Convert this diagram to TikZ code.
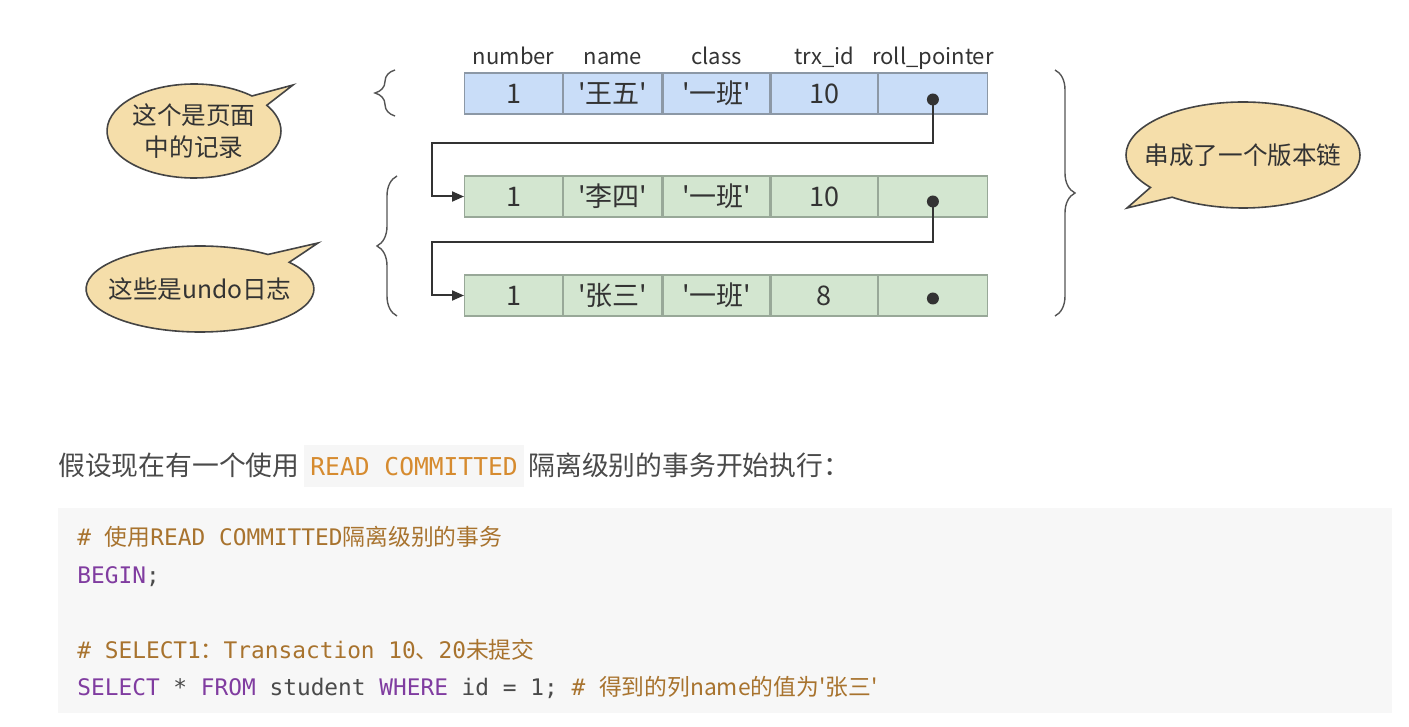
\documentclass[tikz,border=0pt]{standalone}
\usepackage{xcolor}
\usepackage{fontspec}
\newfontfamily\cjk{Noto Sans CJK SC}
\newfontfamily\codefont{DejaVu Sans Mono}
\usepackage{tikz}
\usetikzlibrary{arrows.meta, positioning, shapes.callouts, decorations.pathreplacing}

\definecolor{curfill}{HTML}{C9DDF8}
\definecolor{curline}{HTML}{8C98A6}
\definecolor{undofill}{HTML}{D3E6D0}
\definecolor{undoline}{HTML}{98A898}
\definecolor{textdark}{HTML}{333333}
\definecolor{bubblefill}{HTML}{F5DEAA}
\definecolor{bubbleline}{HTML}{444444}
\definecolor{ptrcol}{HTML}{333333}
\definecolor{bracecol}{HTML}{555555}
\definecolor{paratext}{HTML}{4A4A4A}
\definecolor{inlinefill}{HTML}{F6F6F6}
\definecolor{inlinetext}{HTML}{D68B2F}
\definecolor{codefill}{HTML}{F7F7F7}
\definecolor{commentcol}{HTML}{A8732E}
\definecolor{keywordcol}{HTML}{803CA0}
\definecolor{plaincode}{HTML}{4A4A4A}

\begin{document}
\begin{tikzpicture}[
    x=0.5pt, y=-0.5pt,
    % record cells (page record = blue, undo log = green)
    cell/.style={rectangle, line width=0.6pt, minimum height=20.5pt, inner sep=0pt,
                 font=\cjk\fontsize{13.5}{15}\selectfont, text=textdark},
    curcell/.style={cell, fill=curfill, draw=curline},
    undocell/.style={cell, fill=undofill, draw=undoline},
    colhead/.style={font=\cjk\fontsize{11}{13}\selectfont, text=textdark, inner sep=1pt,
                    text height=8pt, text depth=2.5pt},
    % speech bubbles
    bubble/.style={ellipse callout, draw=bubbleline, line width=0.8pt, fill=bubblefill,
                   align=center, inner sep=0pt, text=textdark,
                   font=\cjk\fontsize{12.3}{16}\selectfont},
    ptr/.style={-{Triangle[length=6pt,width=5pt]}, line width=1pt, draw=ptrcol},
    curly/.style={decorate, decoration={brace, amplitude=10pt}, draw=bracecol, line width=0.7pt},
    % text below the figure
    para/.style={font=\cjk\fontsize{13.4}{16}\selectfont, text=paratext, inner sep=0pt},
    inlinecode/.style={font=\codefont\fontsize{12.3}{15}\selectfont, text=inlinetext,
                       fill=inlinefill, inner xsep=3pt, inner ysep=6pt},
    codeline/.style={font=\codefont\fontsize{11.4}{14}\selectfont, text=plaincode,
                     inner sep=0pt, anchor=base west}
]
\useasboundingbox (0,0) rectangle (1409,727);

%-------- PAGE RECORD --------
\node[curcell, minimum width=49pt, anchor=west] (cur1) at (464,93.5) {1};
\node[curcell, minimum width=49pt, right=0pt of cur1] (cur2) {'王五'};
\node[curcell, minimum width=53.5pt, right=0pt of cur2] (cur3) {'一班'};
\node[curcell, minimum width=53pt, right=0pt of cur3] (cur4) {10};
\node[curcell, minimum width=54.5pt, right=0pt of cur4] (cur5) {};

%-------- COLUMN HEADERS --------
\node[colhead, above=0pt of cur1] (hnum) {number};
\node[colhead, above=0pt of cur2] (hname) {name};
\node[colhead, above=0pt of cur3] (hclass) {class};
\node[colhead, above=0pt of cur4] (htrx) {trx\_id};
\node[colhead, above=0pt of cur5] (hroll) {roll\_pointer};

%-------- UNDO LOG --------
\node[undocell, minimum width=49pt, anchor=west] (undoa1) at (464,196.5) {1};
\node[undocell, minimum width=49pt, right=0pt of undoa1] (undoa2) {'李四'};
\node[undocell, minimum width=53.5pt, right=0pt of undoa2] (undoa3) {'一班'};
\node[undocell, minimum width=53pt, right=0pt of undoa3] (undoa4) {10};
\node[undocell, minimum width=54.5pt, right=0pt of undoa4] (undoa5) {};

\node[undocell, minimum width=49pt, anchor=west] (undob1) at (464,295.5) {1};
\node[undocell, minimum width=49pt, right=0pt of undob1] (undob2) {'张三'};
\node[undocell, minimum width=53.5pt, right=0pt of undob2] (undob3) {'一班'};
\node[undocell, minimum width=53pt, right=0pt of undob3] (undob4) {8};
\node[undocell, minimum width=54.5pt, right=0pt of undob4] (undob5) {};

%-------- ROLL POINTERS --------
\coordinate (dot1) at ([yshift=-3pt]cur5.center);
\coordinate (dot2) at ([yshift=-2.5pt]undoa5.center);
\coordinate (dot3) at ([yshift=-1.5pt]undob5.center);
\fill[ptrcol] (dot1) circle (3pt);
\fill[ptrcol] (dot2) circle (3pt);
\fill[ptrcol] (dot3) circle (3pt);

\coordinate (turn1) at (432,143);
\coordinate (turn2) at (432,242);
\draw[ptr] (dot1) |- (turn1) |- (undoa1.west);
\draw[ptr] (dot2) |- (turn2) |- (undob1.west);

%-------- BRACES --------
\coordinate (bra1) at (395,116);
\coordinate (bra1e) at (395,70);
\coordinate (bra2) at (397,316);
\coordinate (bra2e) at (397,176);
\coordinate (bra3) at (1055,70);
\coordinate (bra3e) at (1055,316);
\draw[curly] (bra1) -- (bra1e);
\draw[curly] (bra2) -- (bra2e);
\draw[curly] (bra3) -- (bra3e);

%-------- BUBBLES --------
\node[bubble, minimum width=86pt, minimum height=47pt,
      callout absolute pointer={(293,85)}] (recnote) at (194,131) {这个是页面\\中的记录};
\node[bubble, minimum width=113pt, minimum height=43pt, inner xsep=-5.5pt,
      callout absolute pointer={(318,243)}] (undonote) at (200,289) {这些是undo日志};
\node[bubble, minimum width=117pt, minimum height=53pt, inner xsep=-8pt,
      callout absolute pointer={(1127,208)}] (chainnote) at (1243,155) {串成了一个版本链};

%-------- TEXT --------
\node[para, anchor=base west] (lead) at (58,475) {假设现在有一个使用};
\node[inlinecode, anchor=base west] (rc) at ([xshift=2pt]lead.base east) {READ COMMITTED};
\node[para, anchor=base west] (rest) at ([xshift=2pt]rc.base east) {隔离级别的事务开始执行：};

%-------- CODE --------
\node[fill=codefill, minimum width=667pt, minimum height=102.5pt, inner sep=0pt,
      anchor=north west] (codeblock) at (58,508) {};
\node[codeline] (code1) at (77,545)
    {\textcolor{commentcol}{\# {\cjk 使用}READ COMMITTED{\cjk 隔离级别的事务}}};
\node[codeline] (code2) at (77,583) {\textcolor{keywordcol}{BEGIN};};
\node[codeline] (code3) at (77,658)
    {\textcolor{commentcol}{\# SELECT1{\cjk ：}Transaction 10{\cjk 、}20{\cjk 未提交}}};
\node[codeline] (code4) at (77,695)
    {\textcolor{keywordcol}{SELECT} * \textcolor{keywordcol}{FROM} student
     \textcolor{keywordcol}{WHERE} id = 1; \textcolor{commentcol}{\# {\cjk 得到的列name的值为'张三'}}};

\end{tikzpicture}
\end{document}
